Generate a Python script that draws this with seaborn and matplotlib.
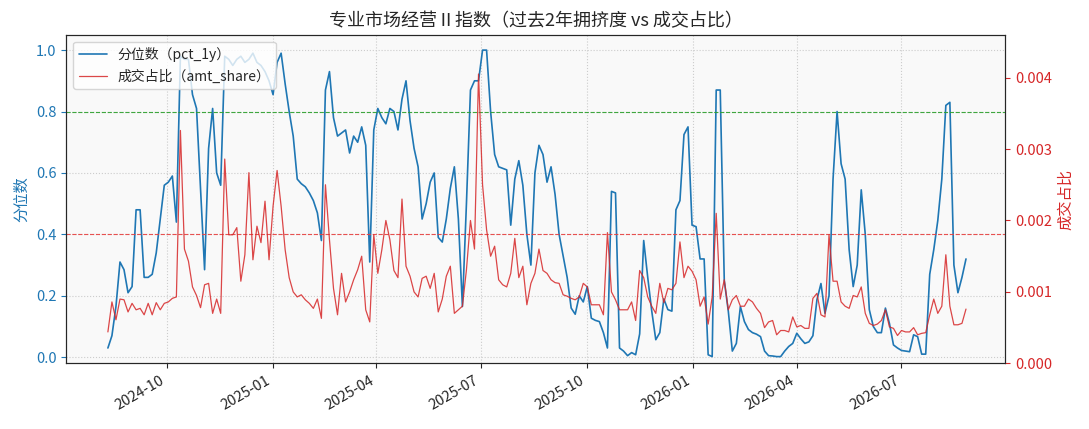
import numpy as np
import pandas as pd
import seaborn as sns
import matplotlib.pyplot as plt
import matplotlib.dates as mdates

# data
start_date = "2024-08-11"
end_date = "2026-08-26"

pct_1y = [
    0.03, 0.07, 0.165, 0.31, 0.285, 0.21, 0.23, 0.48, 0.48, 0.26,
    0.26, 0.27, 0.34, 0.45, 0.56, 0.57, 0.59, 0.44, 0.98, 0.97,
    0.97, 0.855, 0.81, 0.55, 0.285, 0.68, 0.81, 0.6, 0.56, 0.98,
    0.97, 0.95, 0.97, 0.98, 0.96, 0.97, 0.99, 0.96, 0.95, 0.93,
    0.9, 0.855, 0.96, 0.99, 0.89, 0.8, 0.72, 0.58, 0.565, 0.555,
    0.535, 0.51, 0.47, 0.38, 0.87, 0.93, 0.78, 0.72, 0.73, 0.74,
    0.665, 0.72, 0.70, 0.75, 0.69, 0.31, 0.74, 0.81, 0.78, 0.76,
    0.81, 0.8, 0.74, 0.84, 0.9, 0.77, 0.68, 0.62, 0.45, 0.5,
    0.57, 0.6, 0.39, 0.375, 0.45, 0.55, 0.62, 0.45, 0.165, 0.5,
    0.87, 0.9, 0.9, 1.0, 1.0, 0.8, 0.66, 0.62, 0.615, 0.61,
    0.43, 0.58, 0.64, 0.56, 0.4, 0.3, 0.6, 0.69, 0.66, 0.57,
    0.62, 0.53, 0.4, 0.33, 0.26, 0.16, 0.14, 0.2, 0.18, 0.23,
    0.127, 0.12, 0.116, 0.08, 0.03, 0.54, 0.535, 0.03, 0.02, 0.005,
    0.015, 0.008, 0.076, 0.38, 0.26, 0.15, 0.057, 0.08, 0.19, 0.155,
    0.15, 0.48, 0.51, 0.725, 0.75, 0.43, 0.425, 0.32, 0.32, 0.008,
    0.002, 0.87, 0.87, 0.25, 0.15, 0.02, 0.045, 0.165, 0.116, 0.09,
    0.08, 0.075, 0.067, 0.02, 0.005, 0.004, 0.002, 0.002, 0.02, 0.035,
    0.045, 0.078, 0.06, 0.045, 0.05, 0.07, 0.187, 0.24, 0.143, 0.2,
    0.58, 0.8, 0.63, 0.58, 0.35, 0.23, 0.3, 0.545, 0.4, 0.155,
    0.1, 0.08, 0.08, 0.16, 0.11, 0.04, 0.03, 0.022, 0.02, 0.018,
    0.073, 0.067, 0.01, 0.01, 0.27, 0.35, 0.445, 0.58, 0.82, 0.83,
    0.3, 0.21, 0.26, 0.32,
]

# amt_share in units of 0.001
amt_share_milli = [
    0.44, 0.86, 0.61, 0.90, 0.89, 0.72, 0.84, 0.75, 0.77, 0.68,
    0.84, 0.68, 0.85, 0.75, 0.84, 0.86, 0.91, 0.93, 3.26, 1.6,
    1.43, 1.07, 0.95, 0.78, 1.1, 1.12, 0.70, 0.9, 0.70, 2.86,
    1.8, 1.8, 1.9, 1.15, 1.52, 2.67, 1.45, 1.92, 1.69, 2.27,
    1.45, 2.2, 2.7, 2.2, 1.59, 1.2, 1.0, 0.93, 0.96, 0.89,
    0.84, 0.77, 0.9, 0.63, 2.5, 1.73, 1.05, 0.68, 1.26, 0.86,
    1.0, 1.17, 1.31, 1.5, 0.75, 0.58, 1.8, 1.26, 1.59, 2.0,
    1.73, 1.3, 1.2, 2.3, 1.36, 1.22, 1.0, 0.93, 1.19, 1.22,
    1.05, 1.26, 0.72, 0.9, 1.22, 1.36, 0.7, 0.75, 0.8, 1.31,
    2.0, 1.6, 4.05, 2.5, 1.87, 1.5, 1.64, 1.17, 1.1, 1.07,
    1.26, 1.75, 1.2, 1.36, 0.82, 1.12, 1.26, 1.6, 1.3, 1.26,
    1.17, 1.13, 1.12, 0.96, 0.94, 0.91, 0.89, 0.93, 1.12, 1.07,
    0.82, 0.82, 0.82, 0.68, 1.83, 1.0, 0.89, 0.75, 0.75, 0.75,
    0.86, 0.6, 1.3, 1.2, 0.93, 0.8, 0.7, 1.12, 0.85, 1.05,
    1.03, 1.12, 1.7, 1.2, 1.36, 1.29, 1.17, 0.8, 0.93, 0.55,
    0.93, 2.1, 0.9, 1.17, 0.75, 0.89, 0.95, 0.8, 0.8, 0.9,
    0.86, 0.77, 0.7, 0.5, 0.58, 0.6, 0.4, 0.46, 0.46, 0.44,
    0.65, 0.51, 0.53, 0.49, 0.49, 0.91, 0.98, 0.68, 0.65, 1.8,
    1.15, 1.15, 0.86, 0.8, 0.77, 0.95, 0.93, 1.07, 0.7, 0.56,
    0.53, 0.55, 0.6, 0.75, 0.51, 0.49, 0.39, 0.46, 0.44, 0.44,
    0.5, 0.4, 0.42, 0.43, 0.68, 0.9, 0.7, 0.8, 1.52, 0.8,
    0.54, 0.54, 0.56, 0.76,
]

hot_line = 0.8
cold_line = 0.4

dates = pd.date_range(start_date, end_date, periods=len(pct_1y))
df = pd.DataFrame({
    "date": dates,
    "pct_1y": pct_1y,
    "amt_share": np.array(amt_share_milli) / 1000.0,
})

sns.set_style("ticks")
plt.rcParams['font.family'] = ['Noto Sans CJK SC', 'DejaVu Sans']
plt.rcParams['axes.unicode_minus'] = False

blue = "#1f77b4"
red = "#d62728"

fig, ax = plt.subplots(figsize=(10.89, 4.29), dpi=100)
fig.subplots_adjust(left=0.061, right=0.923, top=0.919, bottom=0.153)
ax.set_facecolor("#f9f9f9")

sns.lineplot(data=df, x="date", y="pct_1y", ax=ax, color=blue, lw=1.2,
             label="分位数（pct_1y）", legend=False)
ax.axhline(hot_line, color="#2ca02c", ls="--", lw=0.8, alpha=0.9)
ax.axhline(cold_line, color="#e8403f", ls="--", lw=0.8, alpha=0.9)
ax.set_ylim(-0.02, 1.05)
ax.set_ylabel("分位数", color=blue, fontsize=11)
ax.set_xlabel("")
ax.tick_params(axis="y", colors=blue, labelsize=10.5)
ax.tick_params(axis="x", labelsize=10.5)
ax.grid(True, ls=":", color="#cccccc", lw=0.8)

ax2 = ax.twinx()
sns.lineplot(data=df, x="date", y="amt_share", ax=ax2, color=red, lw=0.9,
             alpha=0.85, label="成交占比（amt_share）", legend=False)
ax2.set_ylim(0, 0.0046)
ax2.set_ylabel("成交占比", color=red, fontsize=11)
ax2.tick_params(axis="y", colors=red, labelsize=10.5)
ax2.yaxis.set_major_formatter(plt.FormatStrFormatter("%.3f"))

ax.xaxis.set_major_locator(mdates.MonthLocator(bymonth=[1, 4, 7, 10]))
ax.xaxis.set_major_formatter(mdates.DateFormatter("%Y-%m"))
ax.set_xlim(pd.Timestamp("2024-07-06"), pd.Timestamp("2026-09-29"))
for lbl in ax.get_xticklabels():
    lbl.set_rotation(30)
    lbl.set_ha("right")

h1, l1 = ax.get_legend_handles_labels()
h2, l2 = ax2.get_legend_handles_labels()
ax.legend(h1 + h2, l1 + l2, loc="upper left", fontsize=10, framealpha=0.8)

ax.set_title("专业市场经营Ⅱ指数（过去2年拥挤度 vs 成交占比）", fontsize=13)

fig.savefig("out.png", dpi=100)
